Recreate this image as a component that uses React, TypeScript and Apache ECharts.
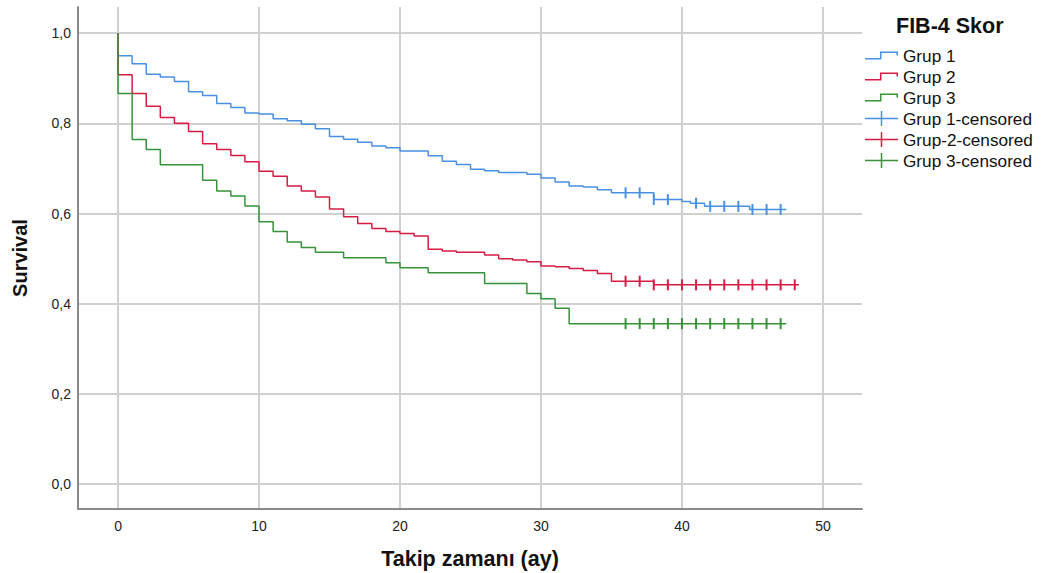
import React, { useEffect, useRef } from "react";
import * as echarts from "echarts";

// ---- Data ----
const grup1Times = [0, 0, 1, 2, 3, 4, 5, 6, 7, 8, 9, 10, 11, 12, 13, 14, 15, 16, 17, 18, 19, 20, 22, 23, 24, 25, 26, 27, 29, 30, 31, 32, 33, 34, 35, 38, 40, 40.6, 41.6, 44.8, 47.4];
const grup1Surv = [1.0, 0.95, 0.932, 0.909, 0.903, 0.893, 0.87, 0.862, 0.844, 0.835, 0.823, 0.821, 0.81, 0.806, 0.798, 0.788, 0.771, 0.765, 0.758, 0.75, 0.746, 0.739, 0.728, 0.716, 0.709, 0.698, 0.695, 0.691, 0.687, 0.679, 0.67, 0.661, 0.659, 0.653, 0.646, 0.631, 0.627, 0.623, 0.616, 0.609, 0.609];
const grup1Censored = [36, 37, 38, 39, 41, 42, 43, 44, 45, 46, 47];

const grup2Times = [0, 0, 1, 2, 3, 4, 5, 6, 7, 8, 9, 10, 11, 12, 13, 14, 15, 16, 17, 18, 19, 20, 21, 22, 23, 24, 26, 27, 28, 29, 30, 31, 32, 33, 34, 35, 38, 48.3];
const grup2Surv = [1.0, 0.908, 0.866, 0.838, 0.813, 0.8, 0.782, 0.755, 0.742, 0.729, 0.715, 0.694, 0.683, 0.661, 0.65, 0.637, 0.61, 0.593, 0.578, 0.567, 0.56, 0.556, 0.55, 0.521, 0.517, 0.514, 0.508, 0.5, 0.497, 0.493, 0.484, 0.482, 0.478, 0.474, 0.467, 0.45, 0.442, 0.442];
const grup2Censored = [36, 37, 38, 39, 40, 41, 42, 43, 44, 45, 46, 47, 48];

const grup3Times = [0, 0, 1, 2, 3, 6, 7, 8, 9, 10, 11, 12, 13, 14, 16, 19, 20, 22, 26, 29, 30, 31, 32, 47.4];
const grup3Surv = [1.0, 0.866, 0.764, 0.742, 0.708, 0.674, 0.65, 0.639, 0.617, 0.582, 0.56, 0.537, 0.525, 0.514, 0.502, 0.491, 0.48, 0.469, 0.445, 0.423, 0.411, 0.39, 0.356, 0.356];
const grup3Censored = [36, 37, 38, 39, 40, 41, 42, 43, 44, 45, 46, 47];

const seriesNames = ["Grup 1", "Grup 2", "Grup 3"];
const censoredNames = ["Grup 1-censored", "Grup-2-censored", "Grup 3-censored"];
const colors = ["#4a90e2", "#d81b45", "#36933a"];

const FONT = "'Liberation Sans', Arial, sans-serif";

const STEP_ICON = "path://M0,6.5 L15,6.5 L15,0 L33,0 L33,4 L31.5,4 L31.5,1.5 L16.5,1.5 L16.5,8 L0,8 Z";
const PLUS_ICON = "path://M0,6.75 L33,6.75 L33,8.25 L0,8.25 Z M15.75,0 L17.25,0 L17.25,15 L15.75,15 Z";

function pairs(times: number[], surv: number[]) {
  return times.map((t, i) => [t, surv[i]]);
}

function survAt(times: number[], surv: number[], t: number) {
  let s = surv[0];
  for (let i = 0; i < times.length; i++) {
    if (times[i] <= t) s = surv[i];
  }
  return s;
}

function censorPoints(times: number[], surv: number[], cens: number[]) {
  return cens.map((t) => [t, survAt(times, surv, t)]);
}

export default function App() {
  const ref = useRef<HTMLDivElement>(null);

  useEffect(() => {
    if (!ref.current) return;
    const chart = echarts.init(ref.current, undefined, { renderer: "svg" });

    const groups = [
      [grup1Times, grup1Surv, grup1Censored],
      [grup2Times, grup2Surv, grup2Censored],
      [grup3Times, grup3Surv, grup3Censored],
    ] as number[][][];

    const lineSeries = groups.map((g, i) => ({
      name: seriesNames[i],
      type: "line",
      step: "end",
      symbol: "none",
      data: pairs(g[0], g[1]),
      lineStyle: { color: colors[i], width: 1.5 },
      itemStyle: { color: colors[i] },
      z: 3,
    }));

    const censSeries = groups.map((g, i) => ({
      name: censoredNames[i],
      type: "scatter",
      symbol: "rect",
      symbolSize: [2, 11],
      data: censorPoints(g[0], g[1], g[2]),
      itemStyle: { color: colors[i], opacity: 1 },
      z: 4,
    }));

    const isMultiple = (v: number, step: number) => Math.abs(v / step - Math.round(v / step)) < 1e-6;

    chart.setOption({
      animation: false,
      textStyle: { fontFamily: FONT },
      title: {
        text: "FIB-4 Skor",
        left: 896,
        top: 15,
        padding: 0,
        textStyle: { fontFamily: FONT, fontSize: 21.5, fontWeight: "bold", color: "#111" },
      },
      legend: {
        orient: "vertical",
        left: 865,
        top: 47,
        padding: 0,
        itemWidth: 33,
        itemHeight: 15,
        itemGap: 4,
        symbolKeepAspect: true,
        textStyle: { fontFamily: FONT, fontSize: 17.2, color: "#111" },
        data: [
          { name: seriesNames[0], icon: STEP_ICON },
          { name: seriesNames[1], icon: STEP_ICON },
          { name: seriesNames[2], icon: STEP_ICON },
          { name: censoredNames[0], icon: PLUS_ICON },
          { name: censoredNames[1], icon: PLUS_ICON },
          { name: censoredNames[2], icon: PLUS_ICON },
        ],
      },
      grid: { left: 78, top: 7, right: 181, bottom: 64, containLabel: false, outerBoundsMode: "none" },
      xAxis: {
        type: "value",
        min: -2.84,
        max: 52.77,
        splitNumber: 5,
        name: "Takip zamanı (ay)",
        nameLocation: "middle",
        nameGap: 39,
        nameTextStyle: { fontFamily: FONT, fontSize: 21.5, fontWeight: "bold", color: "#111" },
        axisLine: { show: true, onZero: false, lineStyle: { color: "#8a8a8a", width: 2 } },
        axisTick: { show: false },
        axisLabel: {
          fontFamily: FONT,
          fontSize: 14,
          color: "#222",
          margin: 10,
          showMinLabel: true,
          showMaxLabel: true,
          formatter: (v: number) => (isMultiple(v, 10) ? String(Math.round(v)) : ""),
        },
        splitLine: {
          show: true,
          showMinLine: false,
          showMaxLine: false,
          lineStyle: { color: "#d0d0d0", width: 2 },
        },
      },
      yAxis: {
        type: "value",
        min: -0.055,
        max: 1.058,
        splitNumber: 5,
        name: "Survival",
        nameLocation: "middle",
        nameGap: 48,
        nameTextStyle: { fontFamily: FONT, fontSize: 20, fontWeight: "bold", color: "#111" },
        axisLine: { show: true, onZero: false, lineStyle: { color: "#8a8a8a", width: 2 } },
        axisTick: { show: false },
        axisLabel: {
          fontFamily: FONT,
          fontSize: 14,
          color: "#222",
          margin: 7,
          formatter: (v: number) => (isMultiple(v, 0.2) ? v.toFixed(1).replace(".", ",") : ""),
        },
        splitLine: {
          show: true,
          showMinLine: false,
          showMaxLine: false,
          lineStyle: { color: "#d0d0d0", width: 2 },
        },
      },
      series: [...lineSeries, ...censSeries],
    });

    return () => {
      chart.dispose();
    };
  }, []);

  return (
    <div
      ref={ref}
      style={{ position: "fixed", left: 0, top: 0, width: 1043, height: 573, background: "#fff" }}
    />
  );
}
